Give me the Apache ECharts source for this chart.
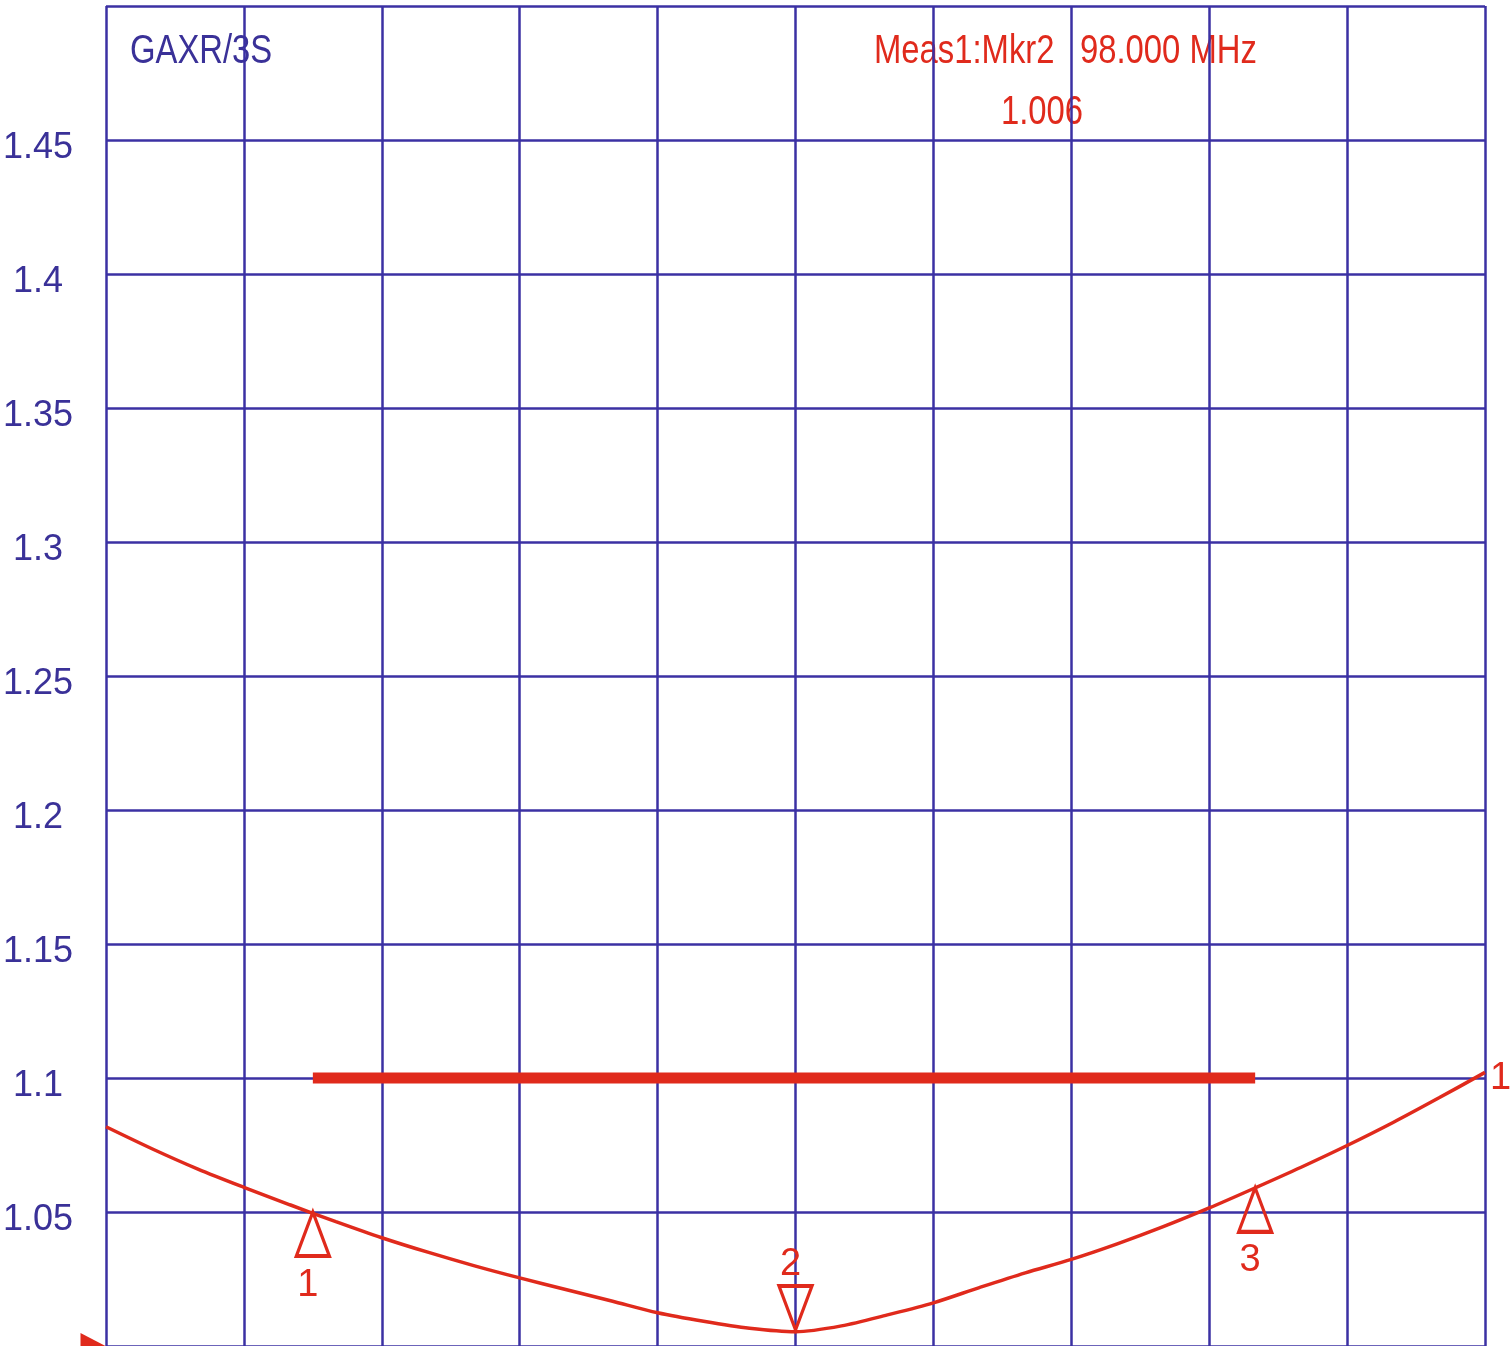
<!DOCTYPE html>
<html>
<head>
<meta charset="utf-8">
<title>GAXR/3S VSWR</title>
<script src="https://cdn.jsdelivr.net/npm/echarts@6/dist/echarts.min.js"></script>
<style>
  html, body { margin: 0; padding: 0; background: #fff; }
  #chart { width: 1512px; height: 1346px; }
</style>
</head>
<body>
<div id="chart"></div>
<script>
// sweep settings (MHz)
const freqStart = 83
const freqStop = 113
const freqPerDiv = 3

// trace 1 (VSWR), one reading per MHz
const freqMHz = [83, 84, 85, 86, 87, 88, 89, 90, 91, 92, 93, 94, 95, 96, 97, 98,
  99, 100, 101, 102, 103, 104, 105, 106, 107, 108, 109, 110, 111, 112, 113]
const vswr = [1.0818, 1.0736, 1.0660, 1.0592, 1.0527, 1.0464, 1.0404, 1.0350, 1.0300,
  1.0254, 1.0211, 1.0168, 1.0124, 1.0092, 1.0066, 1.0053, 1.0075, 1.0116, 1.0161,
  1.0218, 1.0273, 1.0323, 1.0381, 1.0445, 1.0515, 1.0590, 1.0667, 1.0748, 1.0834,
  1.0926, 1.1021]

// limit line
const limitFreq = [87.5, 108]
const limitVal = [1.1, 1.1]

// markers
const markerNames = ['1', '2', '3']
const markerFreq = [87.5, 98, 108]
const markerVal = [1.050, 1.006, 1.059]

// y scale
const yMin = 1.0
const yMax = 1.5
const yStep = 0.05

const activeMarker = 1
const traceTitle = 'GAXR/3S'

const blue = '#3b31a3'
const textBlue = '#3a3198'
const red = '#e02a1c'
const font = "'Liberation Sans', Arial, sans-serif"

const toX = (f) => f - freqStart

const markerPoints = markerNames.map((name, i) => {
  const down = i === activeMarker
  return {
    name: name,
    coord: [toX(markerFreq[i]), markerVal[i]],
    symbol: 'triangle',
    symbolSize: [33, 44],
    symbolRotate: down ? 180 : 0,
    symbolOffset: [0, down ? -22 : 22],
    itemStyle: { color: 'rgba(0,0,0,0)', borderColor: red, borderWidth: 3.5 },
    label: {
      show: true,
      formatter: name,
      position: down ? 'top' : 'bottom',
      distance: 2,
      offset: [-5, down ? 2 : 6],
      color: red,
      fontSize: 38,
      fontFamily: font
    }
  }
})

// reference level indicator on the left edge
markerPoints.push({
  coord: [0, yMin],
  symbol: 'triangle',
  symbolSize: [26, 25],
  symbolRotate: -90,
  symbolOffset: [-13, 0],
  itemStyle: { color: red, borderWidth: 0 },
  label: { show: false }
})

// condensed annotation text, like the analyzer's screen font
const annot = (text, x, y, color) => ({
  type: 'text',
  x: x,
  y: y,
  scaleX: 0.82,
  silent: true,
  style: {
    text: text,
    fill: color,
    font: '40px ' + font,
    textAlign: 'left',
    textVerticalAlign: 'middle'
  }
})

const chart = echarts.init(document.getElementById('chart'), null, { renderer: 'canvas' })

const option = {
  animation: false,
  backgroundColor: '#fff',
  graphic: [
    annot(traceTitle, 130, 52, textBlue),
    annot('Meas1:Mkr' + markerNames[activeMarker], 874, 52, red),
    annot(markerFreq[activeMarker].toFixed(3) + ' MHz', 1080, 52, red),
    annot(markerVal[activeMarker].toFixed(3), 1001, 113, red)
  ],
  grid: {
    left: 106,
    right: 27,
    top: 6,
    bottom: 0,
    outerBoundsMode: 'none'
  },
  xAxis: {
    type: 'value',
    min: 0,
    max: freqStop - freqStart,
    interval: freqPerDiv,
    axisLine: { show: false },
    axisTick: { show: false },
    axisLabel: { show: false },
    splitLine: { show: true, lineStyle: { color: blue, width: 2.5 } }
  },
  yAxis: {
    type: 'value',
    min: yMin,
    max: yMax,
    interval: yStep,
    axisLine: { show: false },
    axisTick: { show: false },
    axisLabel: {
      show: true,
      align: 'center',
      margin: 68,
      color: textBlue,
      fontSize: 36,
      fontFamily: font,
      formatter: (v) => {
        if (v <= yMin + 1e-6 || v >= yMax - 1e-6) return ''
        return '{t|' + parseFloat(v.toFixed(2)) + '}'
      },
      rich: {
        t: {
          color: textBlue,
          fontSize: 36,
          fontFamily: font,
          padding: [16, 0, 0, 0]
        }
      }
    },
    splitLine: { show: true, lineStyle: { color: blue, width: 2.5 } }
  },
  series: [
    {
      name: 'limit',
      type: 'line',
      data: limitFreq.map((f, i) => [toX(f), limitVal[i]]),
      showSymbol: false,
      lineStyle: { color: red, width: 11, cap: 'butt' },
      z: 3
    },
    {
      name: 'trace1',
      type: 'line',
      data: freqMHz.map((f, i) => [toX(f), vswr[i]]),
      showSymbol: false,
      smooth: 0.3,
      clip: false,
      lineStyle: { color: red, width: 3.5 },
      endLabel: {
        show: true,
        formatter: '1',
        color: red,
        fontSize: 38,
        fontFamily: font,
        distance: 5,
        offset: [0, 6]
      },
      markPoint: {
        silent: true,
        data: markerPoints
      },
      z: 4
    }
  ]
}

chart.setOption(option)
</script>
</body>
</html>
